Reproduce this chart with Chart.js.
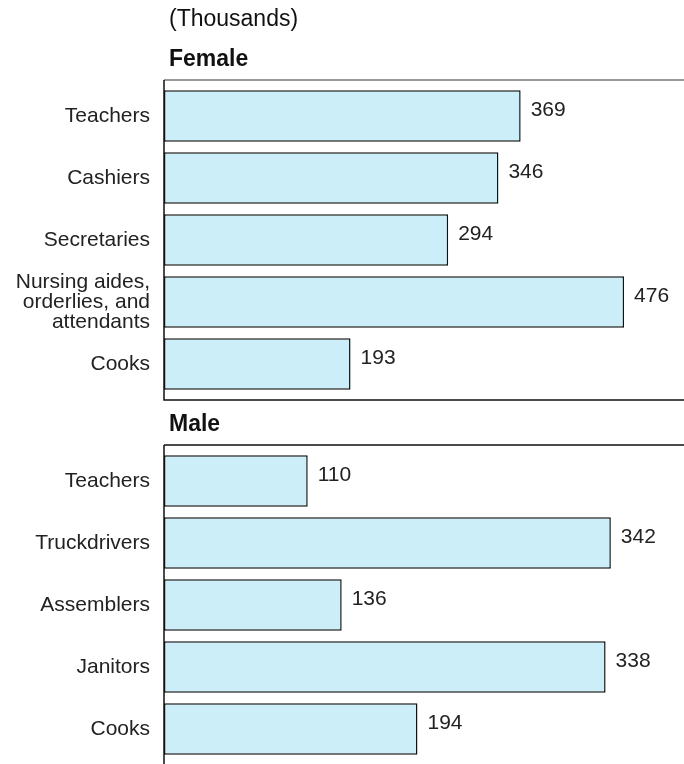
<!DOCTYPE html>
<html lang="en">
<head>
<meta charset="UTF-8">
<title>Occupations (Thousands)</title>
<script src="https://cdn.jsdelivr.net/npm/chart.js"></script>
<style>
    body { margin: 0; background: #fff; }
    .wrap { position: relative; width: 684px; height: 764px; overflow: hidden; }
    #femaleBox { position: absolute; left: 0; top: 0; width: 684px; height: 410px; }
    #maleBox { position: absolute; left: 0; top: 400px; width: 684px; height: 364px; }
</style>
</head>
<body>
<div class="wrap">
    <div id="femaleBox"><canvas id="femaleChart"></canvas></div>
    <div id="maleBox"><canvas id="maleChart"></canvas></div>
</div>
<script>
// data
var femaleLabels = ['Teachers', 'Cashiers', 'Secretaries', ['Nursing aides,', 'orderlies, and', 'attendants'], 'Cooks'];
var femaleValues = [369, 346, 294, 476, 193];
var maleLabels = ['Teachers', 'Truckdrivers', 'Assemblers', 'Janitors', 'Cooks'];
var maleValues = [110, 342, 136, 338, 194];

var FONT = "'Liberation Sans', Arial, Helvetica, sans-serif";
var BAR_FILL = '#cbeef8';
var TEXT = '#222';

// frame, heading and value labels
var panelPlugin = {
    id: 'panel',
    afterDatasetsDraw: function (chart, args, opts) {
        var c = chart.ctx, a = chart.chartArea;
        c.save();
        // value labels
        var meta = chart.getDatasetMeta(0);
        c.font = '21px ' + FONT;
        c.fillStyle = TEXT;
        c.textBaseline = 'middle';
        c.textAlign = 'left';
        meta.data.forEach(function (bar, i) {
            c.fillText(chart.data.datasets[0].data[i], bar.x + 10, bar.y - 6);
        });
        // frame lines
        c.lineWidth = 1.5;
        c.strokeStyle = opts.topColor;
        c.beginPath();
        c.moveTo(a.left, a.top - 5);
        c.lineTo(chart.width, a.top - 5);
        c.stroke();
        c.strokeStyle = '#111';
        c.beginPath();
        c.moveTo(a.left, a.top - 5);
        c.lineTo(a.left, opts.closed ? a.bottom + 5 : chart.height);
        if (opts.closed) {
            c.lineTo(chart.width, a.bottom + 5);
        }
        c.stroke();
        // headings
        c.fillStyle = '#111';
        if (opts.note) {
            c.font = '23px ' + FONT;
            c.fillText(opts.note, a.left + 5, 20);
        }
        c.font = 'bold 23px ' + FONT;
        c.fillText(opts.heading, a.left + 5, a.top - 25);
        c.restore();
    }
};

function makeChart(id, labels, values, max, padTop, padBottom, panelOpts) {
    return new Chart(document.getElementById(id), {
        type: 'bar',
        data: {
            labels: labels,
            datasets: [{
                data: values,
                backgroundColor: BAR_FILL,
                borderColor: '#111',
                borderWidth: 1.5,
                borderSkipped: false,
                barPercentage: 0.83,
                categoryPercentage: 1
            }]
        },
        options: {
            indexAxis: 'y',
            responsive: true,
            maintainAspectRatio: false,
            animation: false,
            layout: { padding: { top: padTop, bottom: padBottom, left: 0, right: 0 } },
            plugins: {
                legend: { display: false },
                tooltip: { enabled: false },
                panel: panelOpts
            },
            scales: {
                x: { min: 0, max: max, display: false },
                y: {
                    afterFit: function (s) {
                        s.width = 164;
                        s.paddingTop = 0;
                        s.paddingBottom = 0;
                    },
                    grid: { display: false, drawTicks: false },
                    border: { display: false },
                    ticks: {
                        autoSkip: false,
                        padding: 14,
                        color: TEXT,
                        font: { family: FONT, size: 21, lineHeight: 0.95 }
                    }
                }
            }
        },
        plugins: [panelPlugin]
    });
}

makeChart('femaleChart', femaleLabels, femaleValues, 538, 85, 15,
    { heading: 'Female', note: '(Thousands)', closed: true, topColor: '#777' });
makeChart('maleChart', maleLabels, maleValues, 398, 50, 4,
    { heading: 'Male', closed: false, topColor: '#111' });
</script>
</body>
</html>
